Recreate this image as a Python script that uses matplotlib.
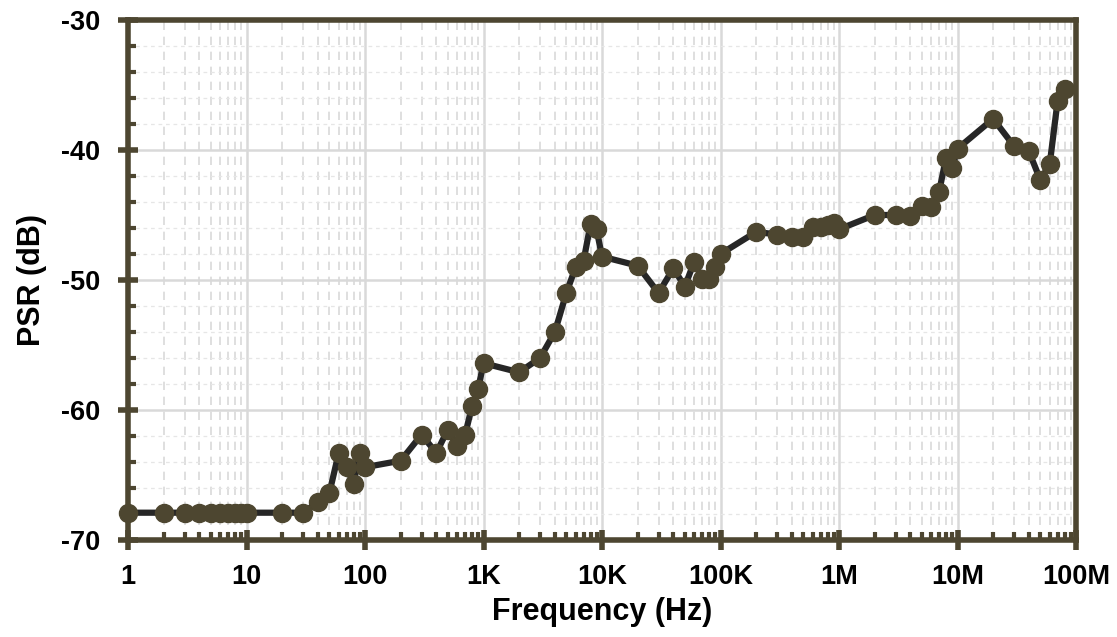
import matplotlib
matplotlib.use("Agg")
import matplotlib.pyplot as plt
from matplotlib.ticker import FixedLocator, LogLocator, NullFormatter, MultipleLocator

plt.rcParams['font.family'] = ['Liberation Sans', 'DejaVu Sans']
plt.rcParams['font.weight'] = 'bold'
plt.rcParams['axes.unicode_minus'] = False

# frequency (Hz) and PSR (dB)
freq = [1, 2, 3, 4, 5, 6, 7, 8, 9, 10,
        20, 30, 40, 50, 60, 70, 80, 90, 100,
        200, 300, 400, 500, 600, 700, 800, 900, 1e3,
        2e3, 3e3, 4e3, 5e3, 6e3, 7e3, 8e3, 9e3, 1e4,
        2e4, 3e4, 4e4, 5e4, 6e4, 7e4, 8e4, 9e4, 1e5,
        2e5, 3e5, 4e5, 5e5, 6e5, 7e5, 8e5, 9e5, 1e6,
        2e6, 3e6, 4e6, 5e6, 6e6, 7e6, 8e6, 9e6, 1e7,
        2e7, 3e7, 4e7, 5e7, 6e7, 7e7, 8e7]
psr = [-67.9, -67.9, -67.9, -67.9, -67.9, -67.9, -67.9, -67.9, -67.9, -67.9,
       -67.9, -67.9, -67.1, -66.4, -63.3, -64.4, -65.7, -63.3, -64.4,
       -63.9, -61.9, -63.3, -61.5, -62.8, -61.9, -59.7, -58.4, -56.4,
       -57.1, -56.0, -54.0, -51.0, -49.0, -48.5, -45.7, -46.1, -48.2,
       -48.9, -51.0, -49.1, -50.5, -48.6, -49.9, -49.9, -49.0, -48.0,
       -46.3, -46.5, -46.7, -46.7, -45.9, -45.9, -45.8, -45.6, -46.1,
       -45.0, -45.0, -45.1, -44.3, -44.4, -43.2, -40.6, -41.4, -39.9,
       -37.6, -39.7, -40.1, -42.3, -41.1, -36.2, -35.3]

xticks = [1, 10, 100, 1e3, 1e4, 1e5, 1e6, 1e7, 1e8]
xlabels = ["1", "10", "100", "1K", "10K", "100K", "1M", "10M", "100M"]
yticks = [-70, -60, -50, -40, -30]

spine_c = "#4d4631"
marker_c = "#4d4630"
line_c = "#262626"
grid_c = "#d9d9d9"

fig = plt.figure(figsize=(11.17, 6.37), dpi=100)
ax = fig.add_axes([128 / 1117, 97 / 637, 948 / 1117, 520 / 637])

ax.plot(freq, psr, color=line_c, lw=4.5, marker="o", ms=13,
        mfc=marker_c, mec=marker_c, zorder=3, clip_on=False)

ax.set_xscale("log")
ax.set_xlim(1, 1e8)
ax.set_ylim(-70, -30)
ax.xaxis.set_major_locator(FixedLocator(xticks))
ax.set_xticks(xticks)
ax.set_xticklabels(xlabels)
ax.xaxis.set_minor_locator(LogLocator(base=10, subs=range(2, 10), numticks=100))
ax.xaxis.set_minor_formatter(NullFormatter())
ax.set_yticks(yticks)
ax.yaxis.set_minor_locator(MultipleLocator(2))

ax.grid(which="major", color=grid_c, lw=1.8, ls="-", zorder=0)
ax.grid(which="minor", axis="x", color=grid_c, lw=1.2, ls=(0, (5, 4)), zorder=0)
ax.grid(which="minor", axis="y", color="#e6e6e6", lw=0.9, ls=(0, (3, 3)), zorder=0)
ax.set_axisbelow(True)

for s in ax.spines.values():
    s.set_color(spine_c)
    s.set_linewidth(4)

ax.tick_params(which="major", direction="inout", length=14, width=4, color=spine_c,
               labelsize=19.5)
ax.tick_params(which="minor", direction="in", length=6, width=3, color=spine_c)
ax.tick_params(axis="x", which="major", pad=10)
ax.tick_params(axis="y", which="major", pad=13)
ax.tick_params(axis="both", which="both", top=False, right=False)

ax.set_xlabel("Frequency (Hz)", fontsize=22, fontweight="bold", labelpad=5)
ax.set_ylabel("PSR (dB)", fontsize=22, fontweight="bold", labelpad=10)

plt.savefig("out.png", dpi=100)
